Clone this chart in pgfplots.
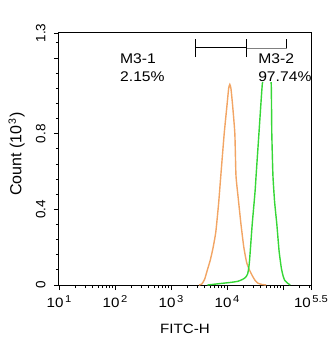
\documentclass[border=0pt]{standalone}
\usepackage{pgfplots}
\pgfplotsset{compat=1.18}
\usepackage{fontspec}
\setmainfont{Liberation Sans}
\newfontfamily\wide[FakeStretch=1.12]{Liberation Sans}
\definecolor{forange}{RGB}{242,165,100}
\definecolor{fgreen}{RGB}{55,215,55}
\newcommand{\dec}[1]{10\kern1.5pt\raisebox{5pt}{\fontsize{10}{11}\selectfont #1}}
\begin{document}
\begin{tikzpicture}
\path[use as bounding box] (-59pt,-65pt) rectangle (276pt,285pt);
\begin{axis}[
  scale only axis, width=252pt, height=252pt,
  xmin=1, xmax=5.5, ymin=0, ymax=1.332,
  axis line style={line width=1pt},
  xtick pos=bottom, ytick pos=left, tick align=outside,
  major tick length=5pt, minor tick length=3pt,
  every tick/.style={black, line width=0.8pt},
  xtick={1,2,3,4,5,5.5},
  xticklabels={\dec{1},\dec{2},\dec{3},\dec{4},,\dec{5.5}},
  minor xtick={1.301,1.477,1.602,1.699,1.778,1.845,1.903,1.954,
               2.301,2.477,2.602,2.699,2.778,2.845,2.903,2.954,
               3.301,3.477,3.602,3.699,3.778,3.845,3.903,3.954,
               4.301,4.477,4.602,4.699,4.778,4.845,4.903,4.954,
               5.301,5.477},
  ytick={0,0.4,0.8,1.2,1.332},
  yticklabels={0,0.4,0.8,,1.3},
  minor ytick={0.08,0.16,0.24,0.32,0.48,0.56,0.64,0.72,0.88,0.96,1.04,1.12,1.28},
  xticklabel style={font=\wide\fontsize{13.5}{15}\selectfont},
  xticklabel shift=2pt,
  yticklabel style={font=\fontsize{13.5}{15}\selectfont, rotate=90, anchor=south},
  yticklabel shift=5pt,
  xlabel={FITC-H},
  ylabel={Count (10\kern1pt\raisebox{5.5pt}{\fontsize{10.5}{11}\selectfont 3}\kern1.5pt)},
  xlabel style={font=\wide\fontsize{13.5}{15}\selectfont, at={(rel axis cs:0.5,-0.176)}, anchor=center},
  ylabel style={font=\fontsize{16}{18}\selectfont, at={(rel axis cs:-0.168,0.52)}, anchor=center},
  clip=false,
]
% orange histogram
\addplot[forange, line width=1.4pt, smooth, tension=0.3] coordinates {
(3.50,0) (3.55,0.005) (3.60,0.03) (3.65,0.08) (3.70,0.13) (3.75,0.195) (3.80,0.28)
(3.85,0.43) (3.89,0.58) (3.95,0.80) (4.00,0.95) (4.03,1.04) (4.05,1.06) (4.07,1.04)
(4.10,0.95) (4.14,0.80) (4.16,0.58) (4.20,0.46) (4.25,0.32) (4.30,0.20) (4.35,0.12)
(4.40,0.08) (4.45,0.05) (4.50,0.025) (4.55,0.01) (4.62,0.003) (4.70,0)
};
% green histogram
\addplot[fgreen, line width=1.4pt, smooth, tension=0.3] coordinates {
(3.65,0) (3.80,0.005) (3.95,0.01) (4.10,0.015) (4.20,0.02) (4.28,0.03) (4.33,0.04)
(4.37,0.06) (4.40,0.12) (4.45,0.32) (4.50,0.49) (4.52,0.58) (4.57,0.80) (4.63,1.06)
(4.68,1.14) (4.72,1.15) (4.76,1.12) (4.79,1.06) (4.80,0.80) (4.82,0.58) (4.85,0.44)
(4.89,0.32) (4.93,0.18) (4.97,0.09) (5.00,0.05) (5.03,0.025) (5.08,0.01) (5.13,0)
};
% marker M3-1
\addplot[black, line width=1pt] coordinates {(3.43,1.253) (4.357,1.253)};
\addplot[black, line width=1pt] coordinates {(3.43,1.205) (3.43,1.30)};
\addplot[black, line width=1pt] coordinates {(4.357,1.205) (4.357,1.30)};
% marker M3-2
\addplot[gray, line width=0.8pt] coordinates {(4.357,1.253) (5.071,1.253)};
\addplot[black, line width=1pt] coordinates {(5.071,1.253) (5.071,1.30)};
\node[anchor=north west, align=left, inner sep=0pt,
      font=\wide\fontsize{14}{18}\selectfont] at (rel axis cs:0.242,0.92) {M3-1\\2.15\%};
\node[anchor=north west, align=left, inner sep=1pt, fill=white,
      font=\wide\fontsize{14}{18}\selectfont] at (rel axis cs:0.786,0.924) {M3-2\\97.74\%};
\draw[line width=1pt] (rel axis cs:1,0) -- (rel axis cs:1,1);
\end{axis}
\end{tikzpicture}
\end{document}
